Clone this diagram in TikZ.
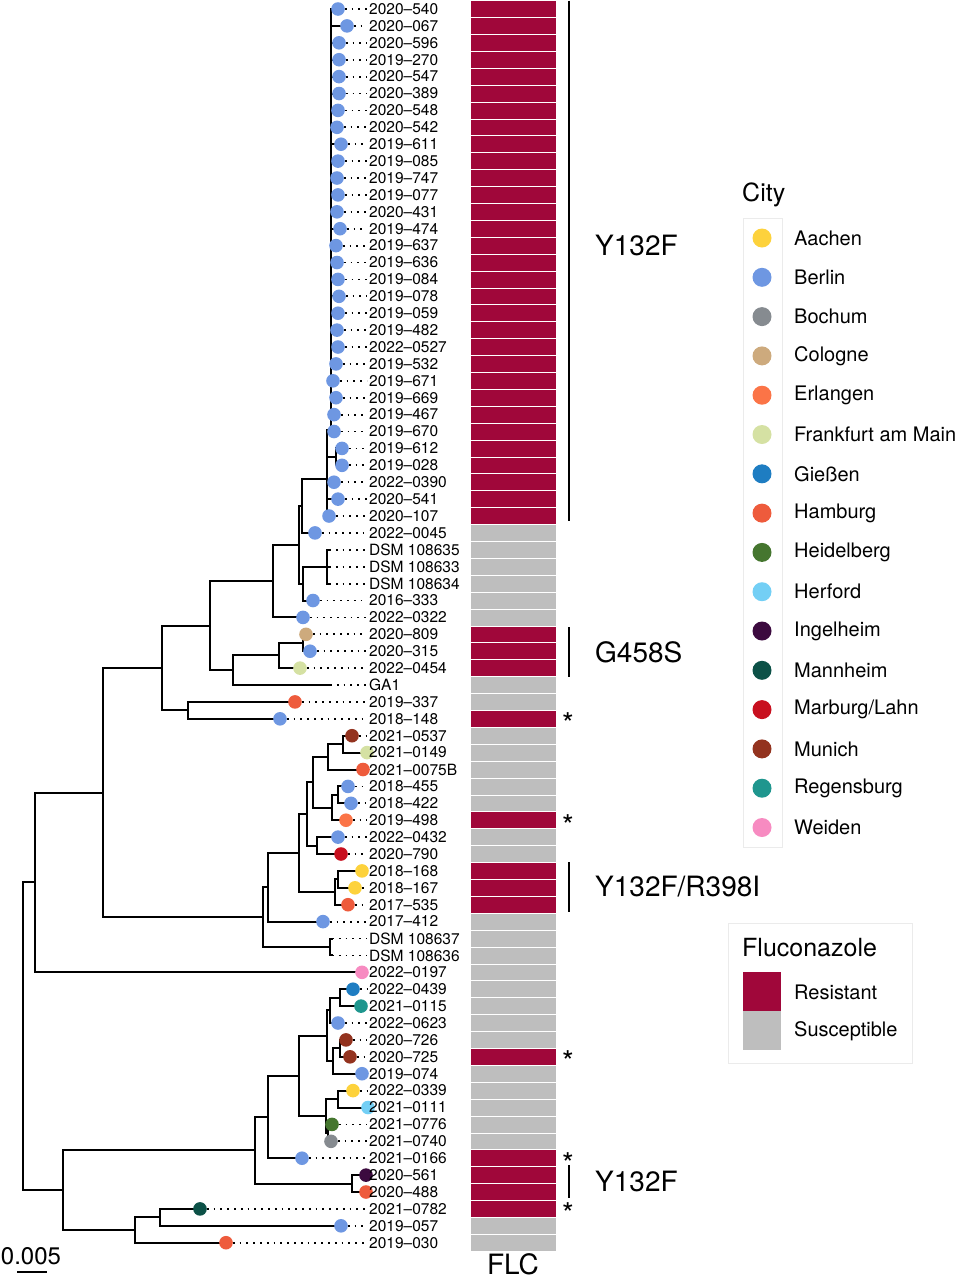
\documentclass[tikz,border=0pt]{standalone}
\usepackage{fontspec}
\setmainfont{TeX Gyre Heros}
\usepackage{tikz}
\usetikzlibrary{calc}

\definecolor{aachen}{HTML}{FDD23C}
\definecolor{berlin}{HTML}{6E97E2}
\definecolor{bochum}{HTML}{868B90}
\definecolor{cologne}{HTML}{CDAA7D}
\definecolor{erlangen}{HTML}{FB7447}
\definecolor{frankfurt}{HTML}{D5E1A3}
\definecolor{giessen}{HTML}{1E7DC2}
\definecolor{hamburg}{HTML}{EE5B3C}
\definecolor{heidelberg}{HTML}{45762F}
\definecolor{herford}{HTML}{73CFF5}
\definecolor{ingelheim}{HTML}{3C0A3F}
\definecolor{mannheim}{HTML}{0C5147}
\definecolor{marburg}{HTML}{C8101F}
\definecolor{munich}{HTML}{93331F}
\definecolor{regensburg}{HTML}{1F968E}
\definecolor{weiden}{HTML}{F78BC1}
\definecolor{flcres}{HTML}{A0073A}
\definecolor{flcsus}{HTML}{BEBEBE}

\tikzset{
  branch/.style={line width=2pt, line cap=rect},
  leader/.style={line width=1.8pt, dash pattern=on 1.8pt off 5pt},
  tiplab/.style={anchor=west, inner sep=0pt, font=\fontsize{15.5}{16}\selectfont},
  cell/.style={draw=white, line width=0.6pt},
  cladebar/.style={line width=2.2pt},
  cladelab/.style={anchor=west, inner sep=0pt, font=\fontsize{28}{30}\selectfont},
  legtitle/.style={anchor=west, inner sep=0pt, font=\fontsize{25}{27}\selectfont},
  leglab/.style={anchor=west, inner sep=0pt, font=\fontsize{20}{22}\selectfont},
  starmark/.style={inner sep=0pt, font=\fontsize{30}{30}\selectfont},
}

% x offset / parent / city / FLC / label
\def\tiplist{338/nYb/berlin/res/2020--540, 347/nYb/berlin/res/2020--067,
  339/nYb/berlin/res/2020--596, 339/nYb/berlin/res/2019--270,
  339/nYb/berlin/res/2020--547, 339/nYb/berlin/res/2020--389,
  338/nYb/berlin/res/2020--548, 337/nYb/berlin/res/2020--542,
  341/nYb/berlin/res/2019--611, 338/nYb/berlin/res/2019--085,
  337/nYb/berlin/res/2019--747, 338/nYb/berlin/res/2019--077,
  337/nYb/berlin/res/2020--431, 340/nYb/berlin/res/2019--474,
  336/nYb/berlin/res/2019--637, 337/nYb/berlin/res/2019--636,
  338/nYb/berlin/res/2019--084, 339/nYb/berlin/res/2019--078,
  338/nYb/berlin/res/2019--059, 337/nYb/berlin/res/2019--482,
  338/nYb/berlin/res/2022--0527, 336/nYb/berlin/res/2019--532,
  333/nYb/berlin/res/2019--671, 336/nYb/berlin/res/2019--669,
  334/nYb/berlin/res/2019--467, 334/nYb/berlin/res/2019--670,
  342/nYc/berlin/res/2019--612, 342/nYc/berlin/res/2019--028,
  334/nY/berlin/res/2022--0390, 338/nY/berlin/res/2020--541,
  329/nY/berlin/res/2020--107, 315/nP/berlin/sus/2022--0045,
  329/dsmA/none/sus/DSM 108635, 329/dsmA/none/sus/DSM 108633,
  329/dsmA/none/sus/DSM 108634, 313/nS/berlin/sus/2016--333,
  303/u3/berlin/sus/2022--0322, 306/u6/cologne/res/2020--809,
  310/u6/berlin/res/2020--315, 300/u5/frankfurt/res/2022--0454,
  330/u4/none/sus/GA1, 295/u7/hamburg/sus/2019--337,
  280/u7/berlin/res/2018--148, 352/ma/munich/sus/2021--0537,
  367/ma/frankfurt/sus/2021--0149, 363/mb/hamburg/sus/2021--0075B,
  348/mc/berlin/sus/2018--455, 351/mc/berlin/sus/2018--422,
  346/md/erlangen/res/2019--498, 338/mf/berlin/sus/2022--0432,
  341/mf/marburg/sus/2020--790, 362/mh/aachen/res/2018--168,
  355/mh/aachen/res/2018--167, 348/mi/hamburg/res/2017--535,
  323/mk/berlin/sus/2017--412, 332/dsmB/none/sus/DSM 108637,
  332/dsmB/none/sus/DSM 108636, 362/nA/weiden/sus/2022--0197,
  353/b11/giessen/sus/2022--0439, 361/b11/regensburg/sus/2021--0115,
  338/b9/berlin/sus/2022--0623, 346/b12/munich/sus/2020--726,
  350/b12/munich/res/2020--725, 362/b10/berlin/sus/2019--074,
  353/b13/aachen/sus/2022--0339, 368/b13/herford/sus/2021--0111,
  332/b14/heidelberg/sus/2021--0776, 331/b14/bochum/sus/2021--0740,
  302/b4/berlin/res/2021--0166, 366/b5/ingelheim/res/2020--561,
  366/b5/hamburg/res/2020--488, 200/b3/mannheim/res/2021--0782,
  341/b3/berlin/sus/2019--057, 226/b2/hamburg/sus/2019--030}

\begin{document}
\begin{tikzpicture}[x=1pt, y=-1pt]
  \useasboundingbox (0,0) rectangle (961,1280);

  % internal nodes
  \coordinate (root) at (23,1036.3);
  \coordinate (nA) at (35,882.4);
  \coordinate (nB) at (63,1190.2);
  \coordinate (nM) at (103,792.55);
  \coordinate (u1) at (162,668);
  \coordinate (u2) at (210,625.65);
  \coordinate (u7) at (188,710.35);
  \coordinate (u3) at (273,581.1);
  \coordinate (u4) at (233,670.2);
  \coordinate (u5) at (279,655.4);
  \coordinate (u6) at (303,642.75);
  \coordinate (nR) at (299,544.8);
  \coordinate (nP) at (302,505.95);
  \coordinate (nS) at (303,583.6);
  \coordinate (dsmA) at (327,566.7);
  \coordinate (nY) at (327,479);
  \coordinate (nYb) at (331,430);
  \coordinate (nYc) at (336,456.85);
  \coordinate (ma) at (343,744.15);
  \coordinate (mb) at (328,756.8);
  \coordinate (mc) at (338,794.85);
  \coordinate (md) at (332,807.5);
  \coordinate (me) at (313,782.15);
  \coordinate (mf) at (317,845.55);
  \coordinate (mg) at (307,813.85);
  \coordinate (mh) at (338,879.35);
  \coordinate (mi) at (335,892);
  \coordinate (mj) at (299,852.9);
  \coordinate (mk) at (268,887.25);
  \coordinate (dsmB) at (330,946.95);
  \coordinate (ml) at (263,917.1);
  \coordinate (b1) at (255,1150.3);
  \coordinate (b2) at (135,1230);
  \coordinate (b3) at (160,1217.35);
  \coordinate (b4) at (268,1117.05);
  \coordinate (b5) at (352,1183.55);
  \coordinate (b6) at (299,1075.85);
  \coordinate (b7) at (327,1035.65);
  \coordinate (b8) at (326,1115.95);
  \coordinate (b9) at (330,1010.3);
  \coordinate (b10) at (333,1061);
  \coordinate (b11) at (340,997.65);
  \coordinate (b12) at (340,1048.35);
  \coordinate (b13) at (338,1099.05);
  \coordinate (b14) at (328,1132.85);

  \foreach \n/\p in {nA/root, nB/root, nM/nA, u1/nM, ml/nM, u2/u1, u7/u1,
    u3/u2, u4/u2, nR/u3, nP/nR, nS/nR, nY/nP, dsmA/nS, nYb/nY, nYc/nY,
    u5/u4, u6/u5, mk/ml, dsmB/ml, mj/mk, mg/mj, mi/mj, me/mg, mf/mg,
    mb/me, md/me, ma/mb, mc/md, mh/mi, b1/nB, b2/nB, b3/b2, b4/b1, b5/b1,
    b6/b4, b7/b6, b8/b6, b9/b7, b10/b7, b11/b9, b12/b10, b13/b8, b14/b8}
    \draw[branch] (\n) -| (\p);

  % tips: leaders, branches and FLC cells
  \foreach \tx/\p/\c/\r/\lab [count=\i, evaluate=\i as \yy using 9+(\i-1)*16.9] in \tiplist {
    \coordinate (t\i) at (\tx,\yy);
    \coordinate (l\i) at (367,\yy);
    \draw[leader] (t\i) -- (l\i);
    \draw[branch] (t\i) -| (\p);
    \filldraw[cell, fill=flc\r] (470,{\yy-8.45}) rectangle (556,{\yy+8.45});
  }
  % tip points and labels
  \foreach \tx/\p/\c/\r/\lab [count=\i, evaluate=\i as \yy using 9+(\i-1)*16.9] in \tiplist {
    \fill[fill=\c] (t\i) circle (6.8);
    \node[tiplab] (lab\i) at (369,\yy) {\lab};
  }

  % stars
  \foreach \k [evaluate=\k as \yy using 9+(\k-1)*16.9] in {43,49,63,69,72}
    \node[starmark] (star\k) at (568,{\yy+5}) {*};

  % mutation bars
  \coordinate (ya) at (569,0.5);   \coordinate (yb) at (569,521);
  \coordinate (ga) at (569,627);   \coordinate (gb) at (569,677);
  \coordinate (ra) at (569,862);   \coordinate (rb) at (569,912);
  \coordinate (za) at (569,1165);  \coordinate (zb) at (569,1198);
  \draw[cladebar] (ya) -- (yb);
  \draw[cladebar] (ga) -- (gb);
  \draw[cladebar] (ra) -- (rb);
  \draw[line width=1.4pt] (za) -- (zb);
  \node[cladelab] (mutA) at (595,245) {Y132F};
  \node[cladelab] (mutB) at (595,652) {G458S};
  \node[cladelab] (mutC) at (595,887) {Y132F/R398I};
  \node[cladelab] (mutD) at (595,1181) {Y132F};

  % column label and scale
  \node[inner sep=0pt, font=\fontsize{28}{30}\selectfont] (flc) at (513,1264) {FLC};
  \coordinate (sa) at (17,1272);
  \coordinate (sb) at (47,1272);
  \draw[line width=1.6pt] (sa) -- (sb);
  \node[inner sep=0pt, font=\fontsize{24}{26}\selectfont] (scale) at (31,1256) {0.005};

  % city legend
  \node[legtitle] (cityt) at (742,195) {City};
  \draw[black!8, line width=0.8pt] (743,218) rectangle (782,847);
  \foreach \c/\name [count=\k, evaluate=\k as \yy using 238+(\k-1)*39.3] in {aachen/Aachen,
    berlin/Berlin, bochum/Bochum, cologne/Cologne, erlangen/Erlangen,
    frankfurt/Frankfurt am Main, giessen/Gießen, hamburg/Hamburg,
    heidelberg/Heidelberg, herford/Herford, ingelheim/Ingelheim,
    mannheim/Mannheim, marburg/Marburg\slash Lahn, munich/Munich,
    regensburg/Regensburg, weiden/Weiden} {
    \fill[\c] (762,\yy) circle (9.5);
    \node[leglab] (city\k) at (794,\yy) {\name};
  }

  % FLC legend
  \draw[black!8, line width=0.8pt] (728,923) rectangle (912,1063);
  \node[legtitle] (flct) at (742,948) {Fluconazole};
  \fill[flcres] (743,972) rectangle (781,1011);
  \fill[flcsus] (743,1011) rectangle (781,1050);
  \node[leglab] (resl) at (794,992) {Resistant};
  \node[leglab] (susl) at (794,1031) {Susceptible};
\end{tikzpicture}
\end{document}
